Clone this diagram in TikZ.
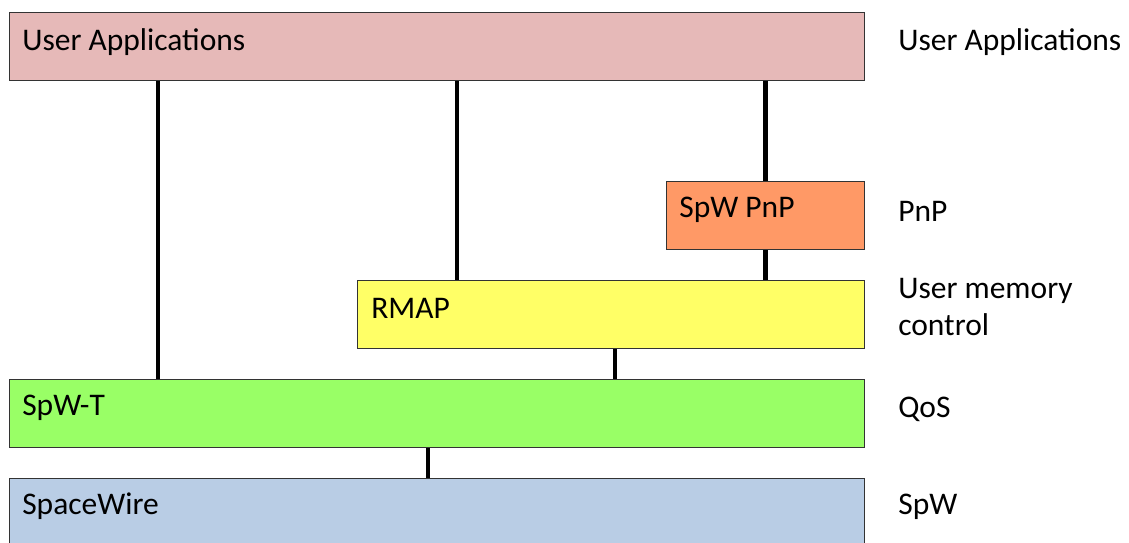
\documentclass[tikz,border=0pt]{standalone}
\usepackage{fontspec}
\setmainfont{Carlito}
\usetikzlibrary{calc}

\definecolor{appcol}{HTML}{E6B9B8}
\definecolor{pnpcol}{HTML}{FF9966}
\definecolor{rmapcol}{HTML}{FFFF66}
\definecolor{qoscol}{HTML}{99FF66}
\definecolor{spwcol}{HTML}{B9CDE5}

\begin{document}
\begin{tikzpicture}[
x=0.025cm, y=-0.025cm,
layer/.style={draw=black!80, line width=0.7pt, rectangle, anchor=north west, inner sep=0pt, minimum height=1.7cm},
txt/.style={anchor=west, inner sep=0pt, font=\fontsize{22.4}{26}\selectfont},
side/.style={anchor=west, inner sep=0pt, align=left, font=\fontsize{22.4}{26.5}\selectfont},
link/.style={line width=2.9pt, line cap=butt} ]

\useasboundingbox (0,0) rectangle (1129,543);

\node[layer, fill=appcol, minimum width=21.375cm] (ua) at (9,12) {};

\node[layer, fill=pnpcol, minimum width=4.95cm] (pnp) at (666,181) {};

\node[layer, fill=rmapcol, minimum width=12.675cm] (rmap) at (357,280) {};

\node[layer, fill=qoscol, minimum width=21.375cm] (spwt) at (9,379) {};

\node[layer, fill=spwcol, minimum width=21.375cm] (sw) at (9,478) {};

% box texts
\node[txt] (uatxt) at ($(ua.north west)+(13,30)$) {User Applications};

\node[txt] (pnptxt) at ($(pnp.north west)+(13,29)$) {SpW PnP};

\node[txt] (rmaptxt) at ($(rmap.north west)+(14,28)$) {RMAP};

\node[txt] (spwttxt) at ($(spwt.north west)+(13,29)$) {SpW-T};

\node[txt] (swtxt) at ($(sw.north west)+(13,28)$) {SpaceWire};

% side labels
\node[side] (l1) at (898,42) {User Applications};

\node[side] (l2) at (898,211) {PnP};

\node[side] (l3) at (898,307) {User memory\\control};

\node[side] (l4) at (898,409) {QoS};

\node[side] (l5) at (898,507) {SpW};

% connections
\draw[link] ($(ua.south west)+(149,0)$) -- ($(spwt.north west)+(149,0)$);

\draw[link] ($(ua.south west)+(448,0)$) -- ($(rmap.north west)+(100,0)$);

\draw[link] (ua.south -| pnp.north) -- (pnp.north);

\draw[link] (pnp.south) -- (rmap.north -| pnp.south);

\draw[link] ($(rmap.south west)+(258,0)$) -- ($(spwt.north west)+(606,0)$);

\draw[link] ($(spwt.south west)+(419,0)$) -- ($(sw.north west)+(419,0)$);

\end{tikzpicture}
\end{document}
